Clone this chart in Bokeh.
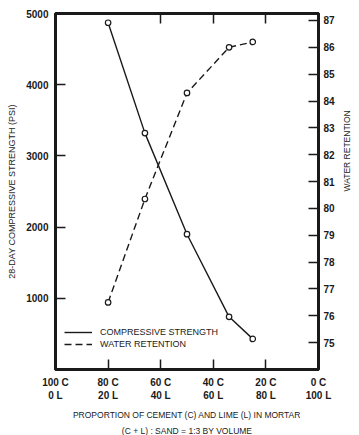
import math
from bokeh.plotting import figure
from bokeh.models import Range1d, LinearAxis, FixedTicker, Legend, LegendItem, Title, Label
from bokeh.embed import file_html
from bokeh.resources import INLINE

# ---- data ----
cement_pct = [80, 66, 50, 34, 25]            # % cement (C) of binder
strength_psi = [4870, 3320, 1900, 740, 430]  # 28-day compressive strength
water_pct = [76.5, 80.35, 84.3, 86.0, 86.2]  # water retention

x_ticks = [100, 80, 60, 40, 20, 0]
x_tick_labels = ["100 C\n0 L", "80 C\n20 L", "60 C\n40 L", "40 C\n60 L", "20 C\n80 L", "0 C\n100 L"]
top_ticks = [60, 40, 20]
left_ticks = [1000, 2000, 3000, 4000, 5000]
right_ticks = [75, 76, 77, 78, 79, 80, 81, 82, 83, 84, 85, 86, 87]

FONT = "Liberation Sans"
INK = "#1a1a1a"

p = figure(width=359, height=435, x_range=Range1d(100, 0), y_range=Range1d(0, 5000),
           output_backend="svg", toolbar_location=None,
           min_border_left=55, min_border_right=36, min_border_top=13, min_border_bottom=65)
p.title.visible = False
p.extra_y_ranges = {"water": Range1d(74.0, 87.26)}
p.grid.visible = False
p.outline_line_color = INK
p.outline_line_width = 3
p.background_fill_color = "white"
p.border_fill_color = "white"


def style_axis(ax):
    ax.axis_line_color = INK
    ax.axis_line_width = 3
    ax.major_tick_line_color = INK
    ax.major_tick_line_width = 1.5
    ax.major_tick_in = 10
    ax.major_tick_out = 0
    ax.minor_tick_line_color = None
    ax.major_label_text_font = FONT
    ax.major_label_text_color = INK
    ax.major_label_text_font_size = "10px"
    ax.major_label_text_font_style = "bold"
    ax.axis_label_text_font = FONT
    ax.axis_label_text_color = INK
    ax.axis_label_text_font_size = "9px"
    ax.axis_label_text_font_style = "normal"


xa = p.xaxis[0]
xa.ticker = FixedTicker(ticks=x_ticks)
xa.major_label_overrides = {t: s for t, s in zip(x_ticks, x_tick_labels)}
style_axis(xa)
xa.major_label_standoff = 7

ya = p.yaxis[0]
ya.ticker = FixedTicker(ticks=left_ticks)
ya.axis_label = "28-DAY COMPRESSIVE STRENGTH (PSI)"
style_axis(ya)
ya.major_label_standoff = 7
ya.axis_label_standoff = 6

ra = LinearAxis(y_range_name="water", ticker=FixedTicker(ticks=right_ticks))
style_axis(ra)
ra.major_label_standoff = 5
ra.axis_label_text_font_size = "8.5px"
try:
    # right-hand axis title reading bottom-to-top, as in the reference
    ra.axis_label_orientation = math.pi / 2
    ra.axis_label = "WATER RETENTION"
    ra.axis_label_standoff = 9
except Exception:
    p.add_layout(Label(x=-11.4, y=2620, text="WATER RETENTION", angle=math.pi / 2,
                       text_align="center", text_baseline="middle", text_font=FONT,
                       text_font_size="8.5px", text_color=INK))
p.add_layout(ra, "right")

ta = LinearAxis(ticker=FixedTicker(ticks=top_ticks))
style_axis(ta)
ta.major_label_text_font_size = "1px"
ta.major_label_text_color = None
ta.major_label_standoff = 0
p.add_layout(ta, "above")

r1 = p.line(cement_pct, strength_psi, line_color=INK, line_width=1.4)
r2 = p.line(cement_pct, water_pct, y_range_name="water", line_color=INK,
            line_width=1.4, line_dash="7 4")
p.scatter(cement_pct, strength_psi, marker="circle", size=5.5, fill_color="white",
          line_color=INK, line_width=1.2)
p.scatter(cement_pct, water_pct, y_range_name="water", marker="circle", size=5.5,
          fill_color="white", line_color=INK, line_width=1.2)

legend = Legend(items=[LegendItem(label="COMPRESSIVE STRENGTH", renderers=[r1]),
                       LegendItem(label="WATER RETENTION", renderers=[r2])],
                location=(9, 19), padding=0, margin=0, spacing=0,
                glyph_width=28, glyph_height=12, label_height=12, label_standoff=8,
                border_line_color=None, background_fill_alpha=0,
                label_text_font=FONT, label_text_font_size="9px", label_text_color=INK)
p.add_layout(legend)

t1 = Title(text="PROPORTION OF CEMENT (C) AND LIME (L) IN MORTAR", align="center",
           text_font=FONT, text_font_size="8.5px", text_font_style="normal",
           text_color=INK, standoff=8)
t2 = Title(text="(C + L) : SAND = 1:3 BY VOLUME", align="center",
           text_font=FONT, text_font_size="8.5px", text_font_style="normal",
           text_color=INK, standoff=0)
p.add_layout(t1, "below")
p.add_layout(t2, "below")

open("out.html", "w").write(file_html(p, INLINE))
